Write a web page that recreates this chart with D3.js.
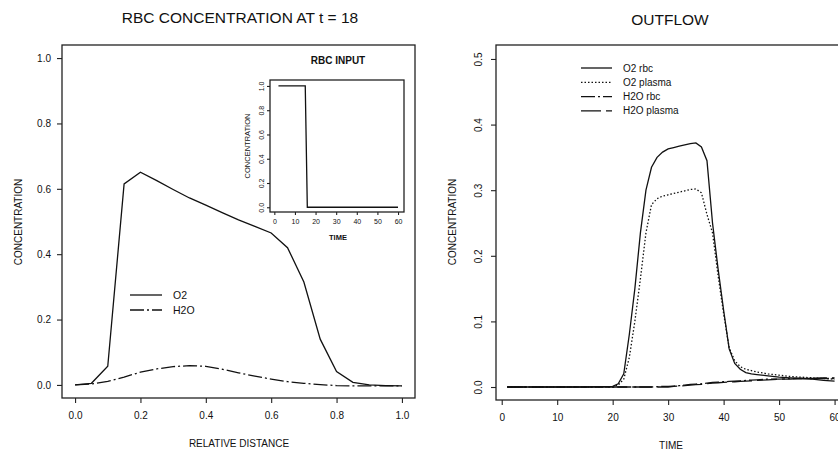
<!DOCTYPE html>
<html lang="en">
<head>
    <meta charset="UTF-8">
    <title>RBC concentration and outflow</title>
    <script src="https://d3js.org/d3.v7.min.js"></script>
    <style>
        body { margin: 0; background: #fff; }
        svg text { font-family: "Liberation Sans", Arial, sans-serif; fill: #111; }
        .tick text { font-size: 10px; }
        .axis-title { font-size: 10px; }
        .box { fill: none; stroke: #222; stroke-width: 1.3px; }
        .curve { fill: none; stroke: #111; stroke-width: 1.3px; }
    </style>
</head>
<body>
<div id="chart"></div>
<script>
    // ---- left panel: concentration along the capillary at t = 18
    const distance = [0, 0.05, 0.1, 0.15, 0.2, 0.25, 0.3, 0.35, 0.4, 0.45, 0.5,
                      0.55, 0.6, 0.65, 0.7, 0.75, 0.8, 0.85, 0.9, 0.95, 1.0];
    const o2Profile = [0, 0.005, 0.057, 0.615, 0.651, 0.625, 0.598, 0.572, 0.55, 0.527, 0.505,
                       0.485, 0.465, 0.42, 0.315, 0.14, 0.041, 0.008, 0.0, -0.002, -0.003];
    const h2oProfile = [0, 0.003, 0.011, 0.024, 0.039, 0.049, 0.056, 0.059, 0.057, 0.048, 0.037,
                        0.027, 0.018, 0.01, 0.005, 0.001, -0.002, -0.003, -0.003, -0.003, -0.003];
    const distTicks = [0, 0.2, 0.4, 0.6, 0.8, 1.0];
    const concTicks = [0, 0.2, 0.4, 0.6, 0.8, 1.0];

    // ---- inset: RBC input pulse
    const inputTime = [2, 15, 16, 60];
    const inputConc = [1, 1, 0, 0];
    const inputTimeTicks = [0, 10, 20, 30, 40, 50, 60];

    // ---- right panel: outflow curves
    const outTime = [1, 5, 10, 15, 20, 21, 22, 23, 24, 25, 26, 27, 28, 29, 30, 31, 32, 33, 34, 35,
                     36, 37, 38, 39, 40, 41, 42, 43, 44, 45, 46, 48, 50, 52, 54, 56, 58, 60];
    const o2Rbc = [0, 0, 0, 0, 0.001, 0.005, 0.02, 0.08, 0.15, 0.235, 0.30, 0.335, 0.35, 0.358, 0.363,
                   0.365, 0.367, 0.369, 0.371, 0.372, 0.366, 0.345, 0.25, 0.18, 0.117, 0.058, 0.036,
                   0.027, 0.022, 0.02, 0.019, 0.017, 0.015, 0.014, 0.013, 0.012, 0.010, 0.009];
    const o2Plasma = [0, 0, 0, 0, 0, 0.003, 0.012, 0.045, 0.1, 0.165, 0.235, 0.278, 0.287, 0.291, 0.293,
                      0.295, 0.297, 0.299, 0.301, 0.302, 0.296, 0.263, 0.235, 0.17, 0.112, 0.06, 0.04,
                      0.031, 0.027, 0.025, 0.023, 0.02, 0.018, 0.016, 0.015, 0.014, 0.013, 0.012];
    const h2oRbc = [0, 0, 0, 0, 0, 0, 0, 0, 0, 0, 0, 0, 0.0005, 0.001, 0.001, 0.0015, 0.002, 0.003, 0.004,
                    0.0045, 0.005, 0.006, 0.007, 0.0075, 0.008, 0.0085, 0.009, 0.0095, 0.01, 0.0105,
                    0.011, 0.012, 0.012, 0.013, 0.013, 0.013, 0.013, 0.013];
    const h2oPlasma = [0, 0, 0, 0, 0, 0, 0, 0, 0, 0, 0, 0, 0, 0, 0, 0.001, 0.0015, 0.002, 0.003,
                       0.0035, 0.004, 0.005, 0.006, 0.0065, 0.007, 0.0075, 0.008, 0.0085, 0.009, 0.0095,
                       0.01, 0.011, 0.012, 0.012, 0.013, 0.013, 0.014, 0.014];
    const timeTicks = [0, 10, 20, 30, 40, 50, 60];
    const outTicks = [0, 0.1, 0.2, 0.3, 0.4, 0.5];

    const outSeries = [
        { name: "O2 rbc", values: o2Rbc, dash: null },
        { name: "O2 plasma", values: o2Plasma, dash: "1.5,2" },
        { name: "H2O rbc", values: h2oRbc, dash: "14,3,2,3" },
        { name: "H2O plasma", values: h2oPlasma, dash: "20,5" }
    ];

    const svg = d3.select("#chart").append("svg")
        .attr("width", 838).attr("height", 454);

    const fmt1 = d3.format(".1f");

    function drawAxes(g, x, y, opts) {
        const xa = g.append("g")
            .attr("transform", `translate(0,${y.range()[0]})`)
            .call(d3.axisBottom(x).tickValues(opts.xTicks).tickFormat(opts.xFmt)
                .tickSize(opts.tick).tickSizeOuter(0).tickPadding(opts.xPad));
        xa.select(".domain").remove();
        const ya = g.append("g")
            .attr("transform", `translate(${x.range()[0]},0)`)
            .call(d3.axisLeft(y).tickValues(opts.yTicks).tickFormat(fmt1)
                .tickSize(opts.tick).tickSizeOuter(0).tickPadding(opts.yPad));
        ya.select(".domain").remove();
        g.selectAll(".tick line").attr("stroke", "#222").attr("stroke-width", 1.1);
        g.selectAll(".tick text").style("font-size", opts.font + "px");
        if (opts.rotateY) {
            ya.selectAll(".tick text")
                .attr("x", null).attr("dy", null)
                .attr("text-anchor", "middle")
                .attr("transform", `translate(${-opts.yPad},0) rotate(-90)`);
        }
        g.append("rect").attr("class", "box")
            .attr("x", x.range()[0]).attr("y", y.range()[1])
            .attr("width", x.range()[1] - x.range()[0])
            .attr("height", y.range()[0] - y.range()[1]);
    }

    // ================= left panel
    const xL = d3.scaleLinear().domain([-0.04, 1.04]).range([62, 415]);
    const yL = d3.scaleLinear().domain([-0.04, 1.04]).range([398, 45]);
    const left = svg.append("g");
    drawAxes(left, xL, yL, { xTicks: distTicks, yTicks: concTicks, xFmt: fmt1,
        tick: 5, xPad: 9, yPad: 6, font: 10, rotateY: false });

    const lineL = d3.line().x(d => xL(d[0])).y(d => yL(d[1]));
    left.append("path").attr("class", "curve")
        .attr("d", lineL(distance.map((d, i) => [d, o2Profile[i]])));
    left.append("path").attr("class", "curve")
        .attr("stroke-dasharray", "14,3,2,3")
        .attr("d", lineL(distance.map((d, i) => [d, h2oProfile[i]])));

    left.append("text").attr("x", 240).attr("y", 23).attr("text-anchor", "middle")
        .style("font-size", "15.5px").text("RBC CONCENTRATION AT t = 18");
    left.append("text").attr("class", "axis-title").attr("x", 239).attr("y", 447)
        .attr("text-anchor", "middle").text("RELATIVE DISTANCE");
    left.append("text").attr("class", "axis-title")
        .attr("transform", "translate(22,222) rotate(-90)")
        .attr("text-anchor", "middle").text("CONCENTRATION");

    // legend
    [["O2", null], ["H2O", "14,3,2,3"]].forEach((d, i) => {
        const ly = 295 + i * 15;
        left.append("line").attr("class", "curve")
            .attr("x1", 130).attr("x2", 162).attr("y1", ly).attr("y2", ly)
            .attr("stroke-dasharray", d[1]);
        left.append("text").attr("x", 173).attr("y", ly).attr("dy", "0.35em")
            .style("font-size", "10.5px").text(d[0]);
    });

    // ---- inset
    const xI = d3.scaleLinear().domain([-2.1, 62.9]).range([270, 404]);
    const yI = d3.scaleLinear().domain([-0.039, 1.049]).range([212, 80]);
    const inset = svg.append("g");
    drawAxes(inset, xI, yI, { xTicks: inputTimeTicks, yTicks: concTicks, xFmt: d3.format("d"),
        tick: 3, xPad: 4, yPad: 6, font: 7, rotateY: true });
    inset.append("path").attr("class", "curve")
        .attr("d", d3.line().x(d => xI(d[0])).y(d => yI(d[1]))(inputTime.map((t, i) => [t, inputConc[i]])));
    inset.append("text").attr("x", 338).attr("y", 64).attr("text-anchor", "middle")
        .style("font-size", "10px").style("font-weight", "bold").text("RBC INPUT");
    inset.append("text").attr("x", 338).attr("y", 239.5).attr("text-anchor", "middle")
        .style("font-size", "7.5px").style("font-weight", "bold").text("TIME");
    inset.append("text").attr("transform", "translate(250,146) rotate(-90)")
        .attr("text-anchor", "middle").style("font-size", "7.5px").text("CONCENTRATION");

    // ================= right panel
    const xR = d3.scaleLinear().domain([-1.03, 62.6]).range([496, 849]);
    const yR = d3.scaleLinear().domain([-0.0198, 0.5213]).range([400, 45]);
    const right = svg.append("g");
    drawAxes(right, xR, yR, { xTicks: timeTicks, yTicks: outTicks, xFmt: d3.format("d"),
        tick: 5, xPad: 9, yPad: 14, font: 10, rotateY: true });

    const lineR = d3.line().x(d => xR(d[0])).y(d => yR(d[1]));
    outSeries.slice().reverse().forEach(s => {
        right.append("path").attr("class", "curve")
            .attr("stroke-dasharray", s.dash)
            .attr("d", lineR(outTime.map((t, i) => [t, s.values[i]])));
    });

    right.append("text").attr("x", 670).attr("y", 25).attr("text-anchor", "middle")
        .style("font-size", "15.5px").text("OUTFLOW");
    right.append("text").attr("class", "axis-title").attr("x", 671).attr("y", 449)
        .attr("text-anchor", "middle").text("TIME");
    right.append("text").attr("class", "axis-title")
        .attr("transform", "translate(456,222) rotate(-90)")
        .attr("text-anchor", "middle").text("CONCENTRATION");

    outSeries.forEach((s, i) => {
        const ly = 68 + i * 14.3;
        right.append("line").attr("class", "curve")
            .attr("x1", 581).attr("x2", 612).attr("y1", ly).attr("y2", ly)
            .attr("stroke-dasharray", s.dash);
        right.append("text").attr("x", 623).attr("y", ly).attr("dy", "0.35em")
            .style("font-size", "10px").text(s.name);
    });
</script>
</body>
</html>
